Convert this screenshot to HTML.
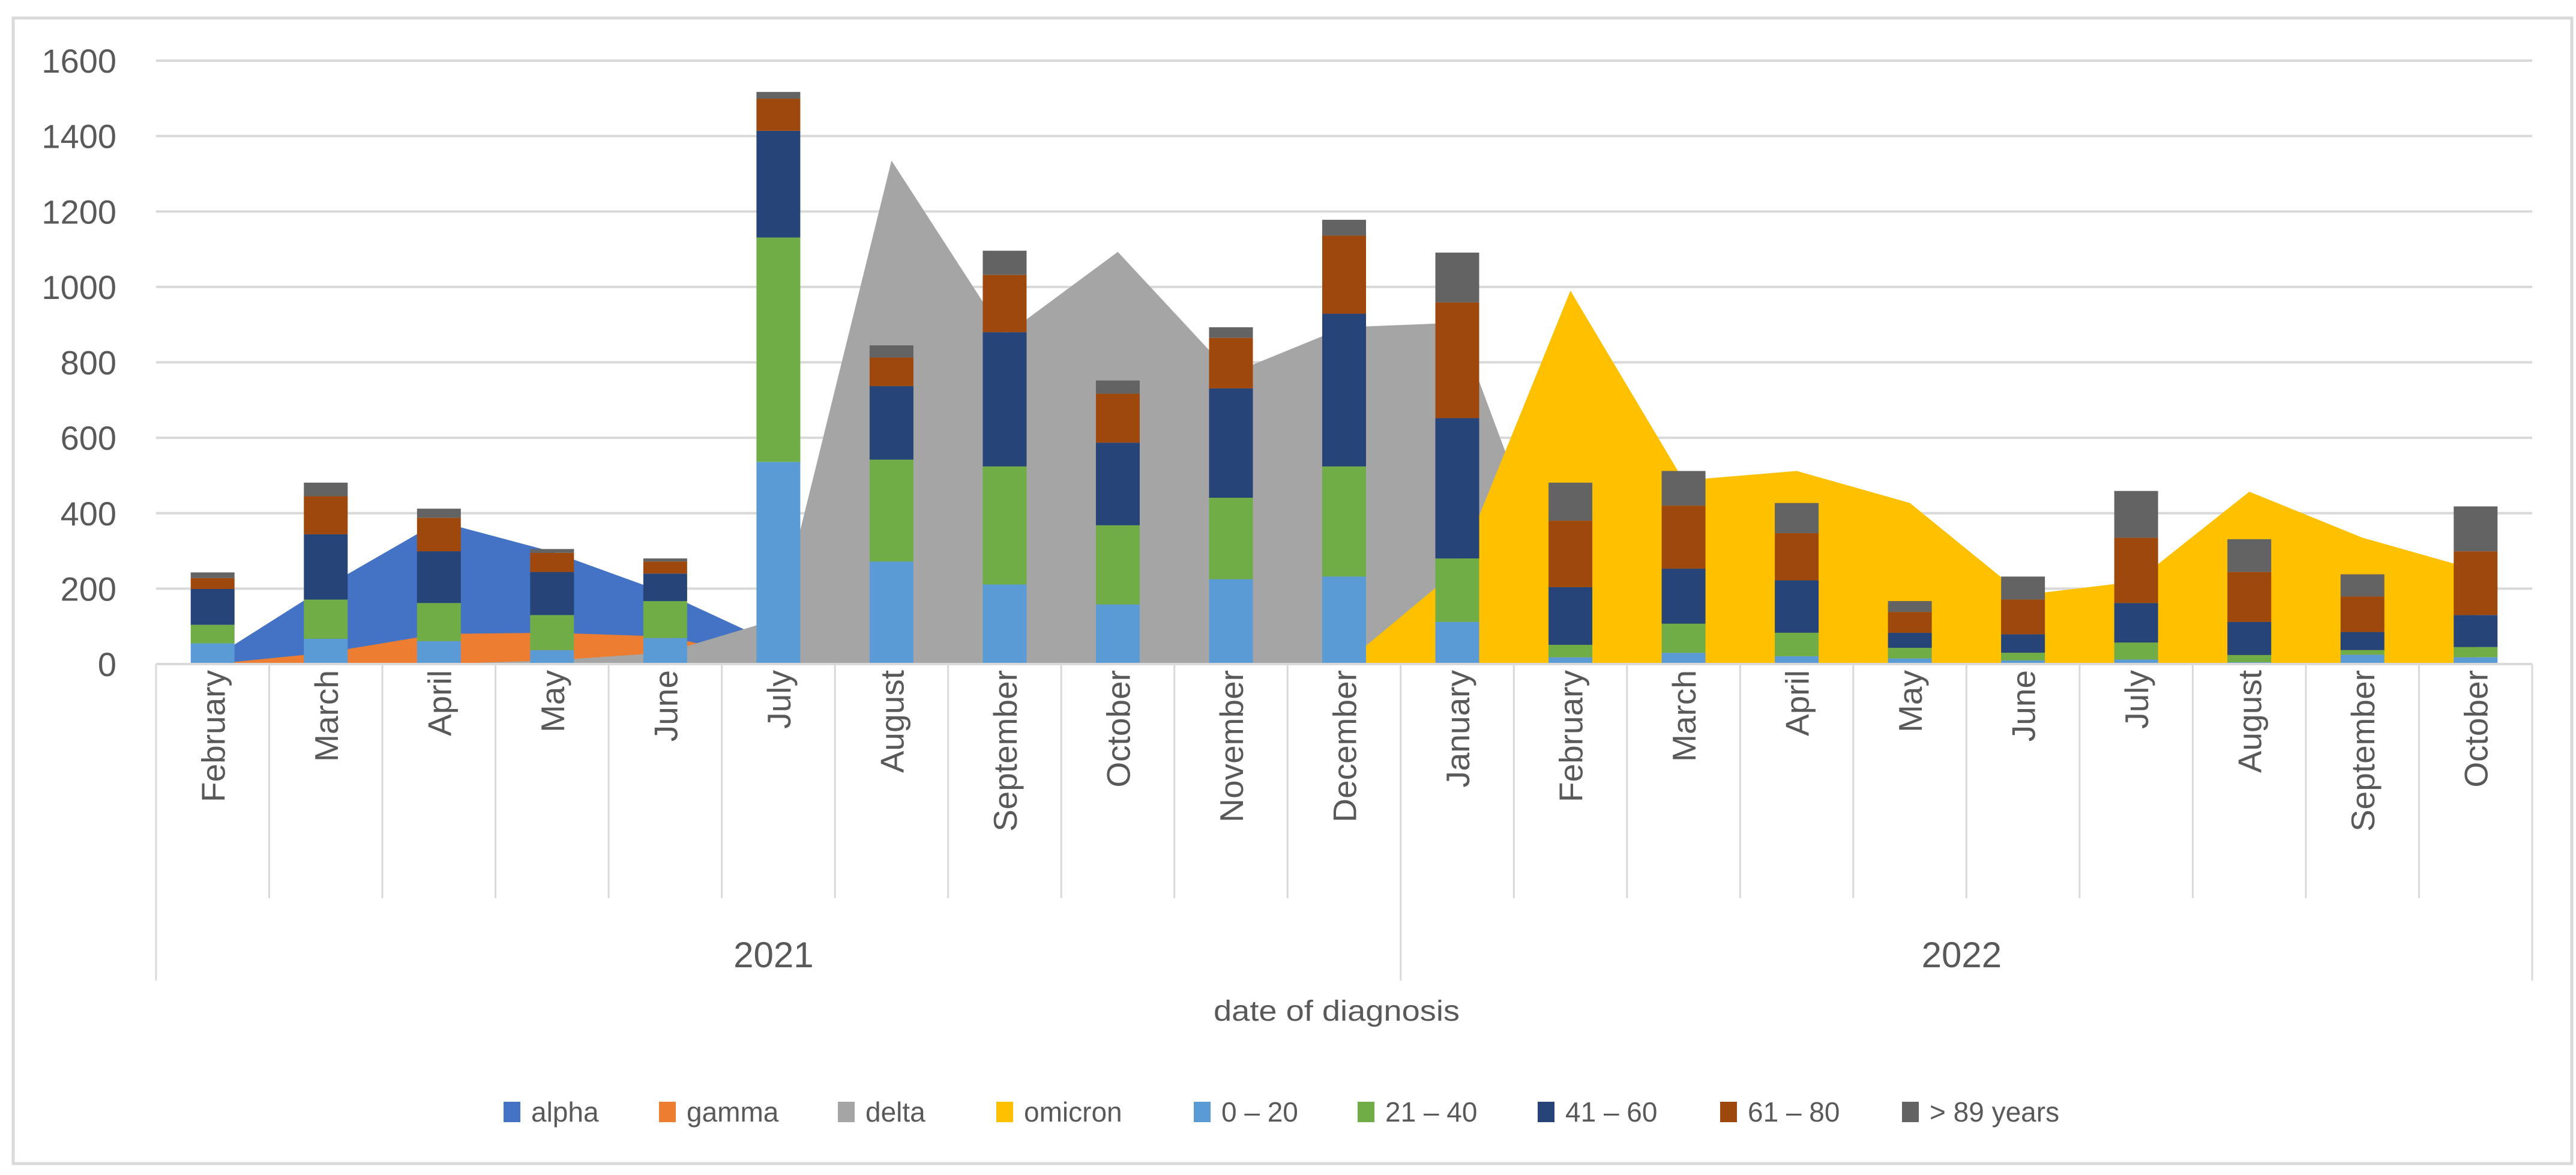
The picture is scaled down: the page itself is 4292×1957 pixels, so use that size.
<!DOCTYPE html>
<html><head><meta charset="utf-8"><style>
html,body{margin:0;padding:0;background:#fff;}
svg{display:block;}
text{font-family:"Liberation Sans",sans-serif;fill:#595959;}
</style></head><body>
<svg id="chart" width="4292" height="1957" viewBox="0 0 4292 1957" xmlns="http://www.w3.org/2000/svg">
<rect x="22" y="30" width="4263" height="1908" fill="#fff" stroke="#D9D9D9" stroke-width="5"/>
<g id="grid"></g><g id="areas"></g><g id="bars"></g><g id="xaxis"></g><g id="yaxis"></g>
<text x="2227" y="1700" font-size="48" text-anchor="middle" textLength="410" lengthAdjust="spacingAndGlyphs">date of diagnosis</text>
<g id="legend"></g>
</svg>
<script>
const months = ["February","March","April","May","June","July","August","September","October","November","December","January","February","March","April","May","June","July","August","September","October"];
const years = ["2021","2022"];
const yearSpans = [11,10];
const yTicks = [0,200,400,600,800,1000,1200,1400,1600];
const alpha = [15,205,378,298,189,50,0,0,0,0,0,0,0,0,0,0,0,0,0,0,0];
const gamma = [0,30,80,83,73,10,0,0,0,0,0,0,0,0,0,0,0,0,0,0,0];
const delta = [0,0,0,10,30,120,1335,871,1093,770,893,905,100,0,0,0,0,0,0,0,0];
const omicron = [0,0,0,0,0,0,0,0,0,0,0,250,990,487,512,427,183,219,457,335,250];
const age0_20 = [55,67,61,37,69,536,272,211,158,225,232,112,18,30,21,15,10,12,5,25,18];
const age21_40 = [49,104,101,93,98,595,270,313,210,216,292,168,33,77,62,28,20,45,19,12,27];
const age41_60 = [95,173,137,114,73,283,195,356,219,290,405,372,153,146,139,40,49,105,88,48,85];
const age61_80 = [29,101,89,51,32,85,76,152,130,134,207,307,176,167,125,55,92,173,132,94,169];
const age89 = [15,36,24,10,8,18,32,64,35,28,42,132,101,92,80,29,61,124,87,59,119];

const NS="http://www.w3.org/2000/svg";
const X0=260, X1=4219, Y0=1106, Y1=101, VMAX=1600;
const cw=(X1-X0)/months.length;
const xc=i=>X0+cw*(i+0.5);
const y=v=>Y0-(v/VMAX)*(Y0-Y1);
function mk(tag,attrs,parent){const e=document.createElementNS(NS,tag);for(const k in attrs)e.setAttribute(k,attrs[k]);parent.appendChild(e);return e;}
const G=id=>document.getElementById(id);

yTicks.forEach(t=>{
  const l=mk('line',{x1:X0,x2:X1,y1:y(t),y2:y(t),stroke:'#D9D9D9','stroke-width':4},G('grid'));
  
  
  const tx=mk('text',{x:194,y:y(t)+20,'font-size':56,'text-anchor':'end'},G('yaxis'));
  tx.textContent=t;
  
  
});

const areaSeries=[["alpha",alpha,"#4472C4"],["gamma",gamma,"#ED7D31"],["delta",delta,"#A5A5A5"],["omicron",omicron,"#FFC000"]];
areaSeries.forEach(([n,d,c])=>{
  let pts=[xc(0)+','+Y0];
  d.forEach((v,i)=>pts.push(xc(i)+','+y(v)));
  pts.push(xc(d.length-1)+','+Y0);
  const p=mk('polygon',{points:pts.join(' '),fill:c},G('areas'));
  
  
});

const barSeries=[["0-20",age0_20,"#5B9BD5"],["21-40",age21_40,"#70AD47"],["41-60",age41_60,"#264478"],["61-80",age61_80,"#9E480E"],["89plus",age89,"#636363"]];
const bw=73;
months.forEach((m,i)=>{
  let base=0;
  barSeries.forEach(([n,d,c])=>{
    const v=d[i];
    const r=mk('rect',{x:xc(i)-bw/2,y:y(base+v),width:bw,height:y(base)-y(base+v),fill:c},G('bars'));
    
    
    base+=v;
  });
});

mk('line',{x1:X0,x2:X1,y1:Y0,y2:Y0,stroke:'#D9D9D9','stroke-width':4},G('xaxis'));
for(let i=0;i<=months.length;i++){
  const x=X0+cw*i;
  let yb=1496;
  if(i===0||i===months.length||i===yearSpans[0]) yb=1633;
  mk('line',{x1:x,x2:x,y1:Y0,y2:yb,stroke:'#D9D9D9','stroke-width':3},G('xaxis'));
}
months.forEach((m,i)=>{
  const x=xc(i)+20, yy=1116;
  const t=mk('text',{x:x,y:yy,'font-size':55,'text-anchor':'end',transform:`rotate(-90 ${x} ${yy})`},G('xaxis'));
  t.textContent=m;
  
  
});
let start=0;
years.forEach((yr,k)=>{
  const cx=X0+cw*(start+yearSpans[k]/2);
  const t=mk('text',{x:cx-8,y:1611,'font-size':60,'text-anchor':'middle'},G('xaxis'));
  t.textContent=yr;
  
  
  start+=yearSpans[k];
});

const legendItems=[["alpha","#4472C4",839],["gamma","#ED7D31",1098],["delta","#A5A5A5",1396],["omicron","#FFC000",1660],["0 – 20","#5B9BD5",1989],["21 – 40","#70AD47",2262],["41 – 60","#264478",2562],["61 – 80","#9E480E",2866],["> 89 years","#636363",3169]];
legendItems.forEach(([lab,c,x],k)=>{
  const g=mk('g',{},G('legend'));
  
  
  mk('rect',{x:x,y:1835,width:28,height:34,fill:c},g);
  const t=mk('text',{x:x+46,y:1868,'font-size':46},g);
  t.textContent=lab;
});
</script>
</body></html>
